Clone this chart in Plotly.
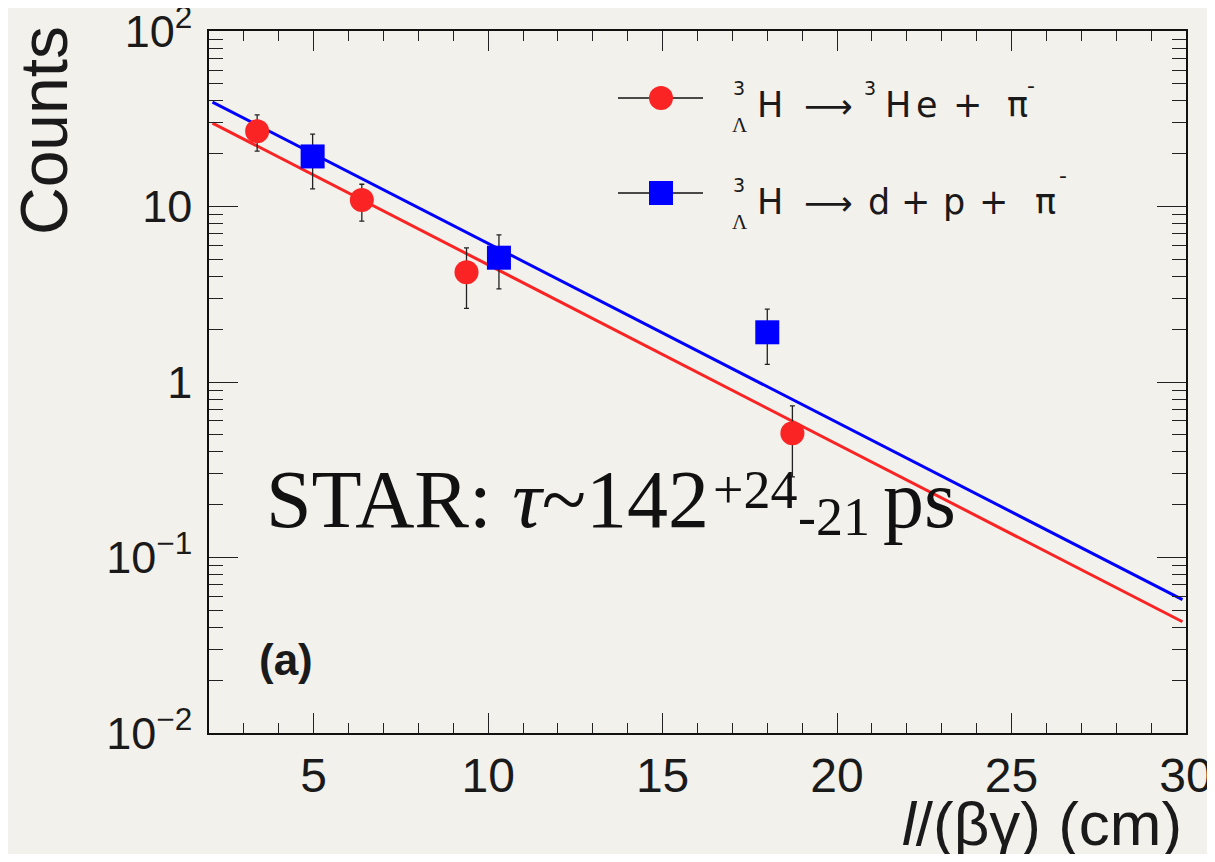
import plotly.graph_objects as go

# ---------------- data ----------------
red_x = [3.38, 6.38, 9.38, 18.72]
red_y = [26.9, 10.9, 4.22, 0.511]
red_err_up = [6.4, 2.5, 1.6, 0.22]
red_err_dn = [6.2, 2.64, 1.59, 0.223]

blue_x = [4.97, 10.31, 18.0]
blue_y = [19.3, 5.11, 1.92]
blue_err_up = [6.6, 1.78, 0.68]
blue_err_dn = [6.7, 1.72, 0.66]

fit_x = [2.1, 29.9]
fit_red = [29.9, 0.0430]
fit_blue = [39.4, 0.0575]

y_tickvals = [0.01, 0.1, 1, 10, 100]
y_ticktext = ["10<sup>\u22122</sup>", "10<sup>\u22121</sup>", "1", "10", "10<sup>2</sup>"]
x_tickvals = [5, 10, 15, 20, 25, 30]

RED = "#fa2424"
BLUE = "#0000ff"
BG = "#f3f1ec"
SANS = "Liberation Sans, Arial, Helvetica, sans-serif"
LEG = "DejaVu Sans, Liberation Sans, sans-serif"
SERIF = "Liberation Serif, Times New Roman, serif"

# the page body has an 8px margin on every side; size the figure so nothing overflows
OFF = 8
SW, SH = 1215, 862
W, H = SW - 2 * OFF, SH - 2 * OFF
L, R, T, B = 209, 1186, 31, 733   # plot frame in window pixels


def px(x):
    return (x - L) / (R - L)


def py(y):
    return (B - y) / (B - T)


fig = go.Figure()

fig.add_trace(go.Scatter(x=fit_x, y=fit_red, mode="lines",
                         line=dict(color=RED, width=3), showlegend=False, hoverinfo="skip"))
fig.add_trace(go.Scatter(x=fit_x, y=fit_blue, mode="lines",
                         line=dict(color=BLUE, width=3), showlegend=False, hoverinfo="skip"))

fig.add_trace(go.Scatter(
    x=red_x, y=red_y, mode="markers",
    marker=dict(symbol="circle", size=24, color=RED),
    error_y=dict(type="data", symmetric=False, array=red_err_up, arrayminus=red_err_dn,
                 color="#222222", thickness=1.3, width=2.5),
    showlegend=False))
fig.add_trace(go.Scatter(
    x=blue_x, y=blue_y, mode="markers",
    marker=dict(symbol="square", size=24, color=BLUE),
    error_y=dict(type="data", symmetric=False, array=blue_err_up, arrayminus=blue_err_dn,
                 color="#222222", thickness=1.3, width=2.5),
    showlegend=False))

axis_common = dict(showline=True, linecolor="#111111", linewidth=1.5, mirror="allticks",
                   ticks="inside", tickcolor="#222222", tickwidth=1.3,
                   showgrid=False, zeroline=False, ticklabeloverflow="allow",
                   automargin=False)

fig.update_xaxes(range=[2, 30.0005], tickvals=x_tickvals, ticklen=20,
                 tickfont=dict(family=SANS, size=48, color="#1a1a1a"),
                 minor=dict(dtick=1, ticklen=10, ticks="inside", tickcolor="#222222", tickwidth=1.3),
                 **axis_common)
fig.update_yaxes(type="log", range=[-2.0005, 2.0005], tickvals=y_tickvals, ticktext=y_ticktext,
                 ticklen=29,
                 tickfont=dict(family=SANS, size=45, color="#1a1a1a"),
                 minor=dict(dtick="D1", ticklen=14, ticks="inside", tickcolor="#222222", tickwidth=1.3),
                 ticklabelstandoff=6,
                 **axis_common)

shapes = []
annotations = []

# legend
for ly, sym, col in [(98, "circle", RED), (193, "rect", BLUE)]:
    shapes.append(dict(type="line", xref="paper", yref="paper",
                       x0=px(618), x1=px(703), y0=py(ly), y1=py(ly),
                       line=dict(color="#111111", width=1.5)))
    shapes.append(dict(type=sym, xref="paper", yref="paper",
                       xsizemode="pixel", ysizemode="pixel",
                       xanchor=px(661), yanchor=py(ly),
                       x0=-12, x1=12, y0=-12, y1=12,
                       fillcolor=col, line=dict(width=0)))


def text_at(text, cx, cy, size, family=LEG, anchor="center", color="#1a1a1a", angle=0):
    annotations.append(dict(text=text, x=px(cx), y=py(cy), xref="paper", yref="paper",
                            xanchor=anchor, yanchor="middle", showarrow=False, textangle=angle,
                            font=dict(family=family, size=size, color=color)))


FS = 35
for dy, rest in [(0, [("3", 870, 88, 19), ("H", 898, 105, FS), ("e", 927, 105, FS),
                      ("+", 967, 105, FS), ("\u03c0", 1017, 105, FS), ("-", 1031, 86, 22)]),
                 (97, [("d", 879, 105, FS), ("+", 915, 105, FS), ("p", 954, 105, FS),
                       ("+", 993, 105, FS), ("\u03c0", 1045, 105, FS), ("-", 1063, 79, 22)])]:
    text_at("3", 739, 88 + dy, 19)
    text_at("\u039b", 740, 125 + dy, 21, family=SERIF)
    text_at("H", 770, 105 + dy, FS)
    text_at("\u27f6", 828, 106 + dy, 34)
    for t, cx, cy, s in rest:
        text_at(t, cx, cy + dy, s)

# panel label
text_at("<b>(a)</b>", 286, 659, 44, family=SANS)

# STAR text (main part, superscript, subscript, unit)
text_at("STAR: <i>\u03c4</i>~142", 264, 499, 82, family=SERIF, anchor="left", color="#111111")
text_at("+24", 711, 490, 54, family=SERIF, anchor="left", color="#111111")
text_at("-21", 796, 517, 54, family=SERIF, anchor="left", color="#111111")
text_at("ps", 881, 499, 82, family=SERIF, anchor="left", color="#111111")

# axis titles
text_at("Counts", 44, 131, 66, family=SANS, angle=-90)
text_at("<i>l</i>/(\u03b2\u03b3) (cm)", 1184, 823, 62, family=SANS, anchor="right")

fig.update_layout(width=W, height=H,
                  margin=dict(l=L - OFF, r=(SW - OFF) - R, t=T - OFF, b=(SH - OFF) - B, pad=0,
                              autoexpand=False),
                  paper_bgcolor=BG, plot_bgcolor=BG,
                  shapes=shapes, annotations=annotations, showlegend=False)

fig.write_html("out.html")
